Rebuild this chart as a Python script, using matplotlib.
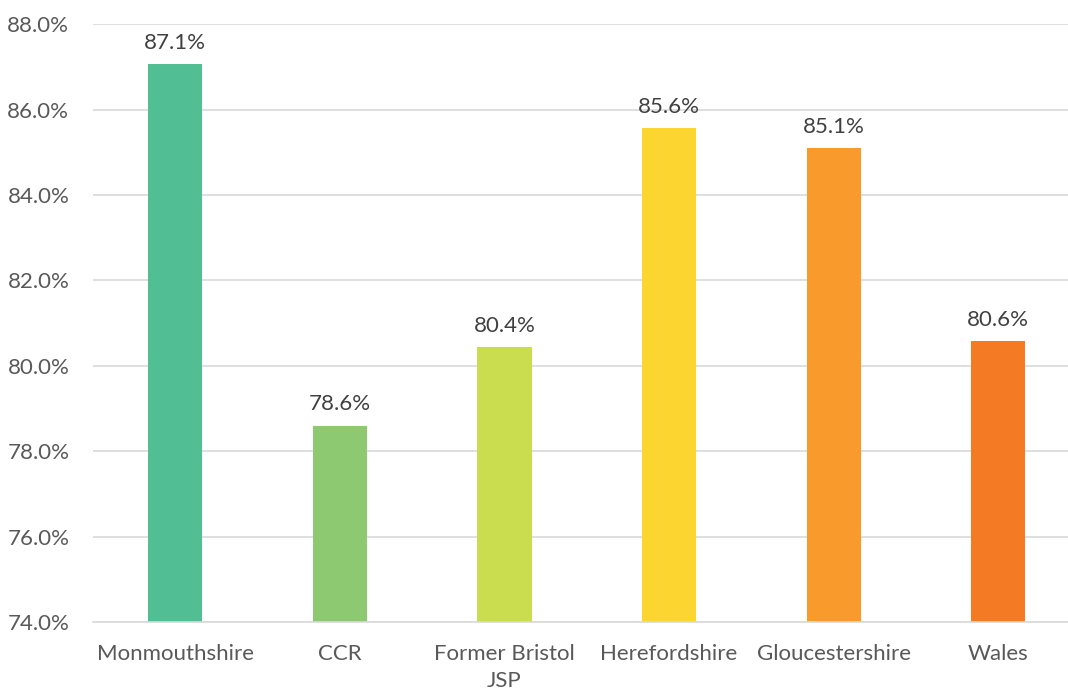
import matplotlib.pyplot as plt
from matplotlib.ticker import FuncFormatter

plt.rcParams['font.family'] = ['Lato', 'DejaVu Sans']

categories = ["Monmouthshire", "CCR", "Former Bristol\nJSP", "Herefordshire",
              "Gloucestershire", "Wales"]
values = [87.07, 78.6, 80.44, 85.57, 85.1, 80.58]
colors = ["#52BE94", "#8DC971", "#C9DD4F", "#FDD530", "#F89B2C", "#F47B24"]

fig = plt.figure(figsize=(10.68, 6.89), dpi=100)
ax = fig.add_axes([0.087, 0.0972, 0.9248, 0.8678])

x = range(len(categories))
bars = ax.bar(x, values, width=0.33, color=colors, zorder=3)

for xi, v in zip(x, values):
    ax.annotate(f"{v:.1f}%", (xi, v), xytext=(0, 8), textcoords="offset points",
                ha="center", va="bottom", fontsize=16, color="#404040")

ax.set_xlim(-0.5, 5.5)
ax.set_ylim(74, 88)
ax.set_yticks(range(74, 89, 2))
ax.yaxis.set_major_formatter(FuncFormatter(lambda v, p: f"{v:.1f}%"))
ax.set_xticks(list(x))
ax.set_xticklabels(categories, linespacing=1.45)
ax.tick_params(axis="both", length=0, labelsize=16, colors="#595959")
ax.tick_params(axis="x", pad=16)
ax.tick_params(axis="y", pad=17)

ax.grid(axis="y", color="#d9d9d9", linewidth=1.2, zorder=0)
for side in ["top", "right", "left"]:
    ax.spines[side].set_visible(False)
ax.spines["bottom"].set_color("#d9d9d9")
ax.spines["bottom"].set_linewidth(1.2)
ax.spines["bottom"].set_zorder(4)

fig.savefig("out.png", dpi=100)
